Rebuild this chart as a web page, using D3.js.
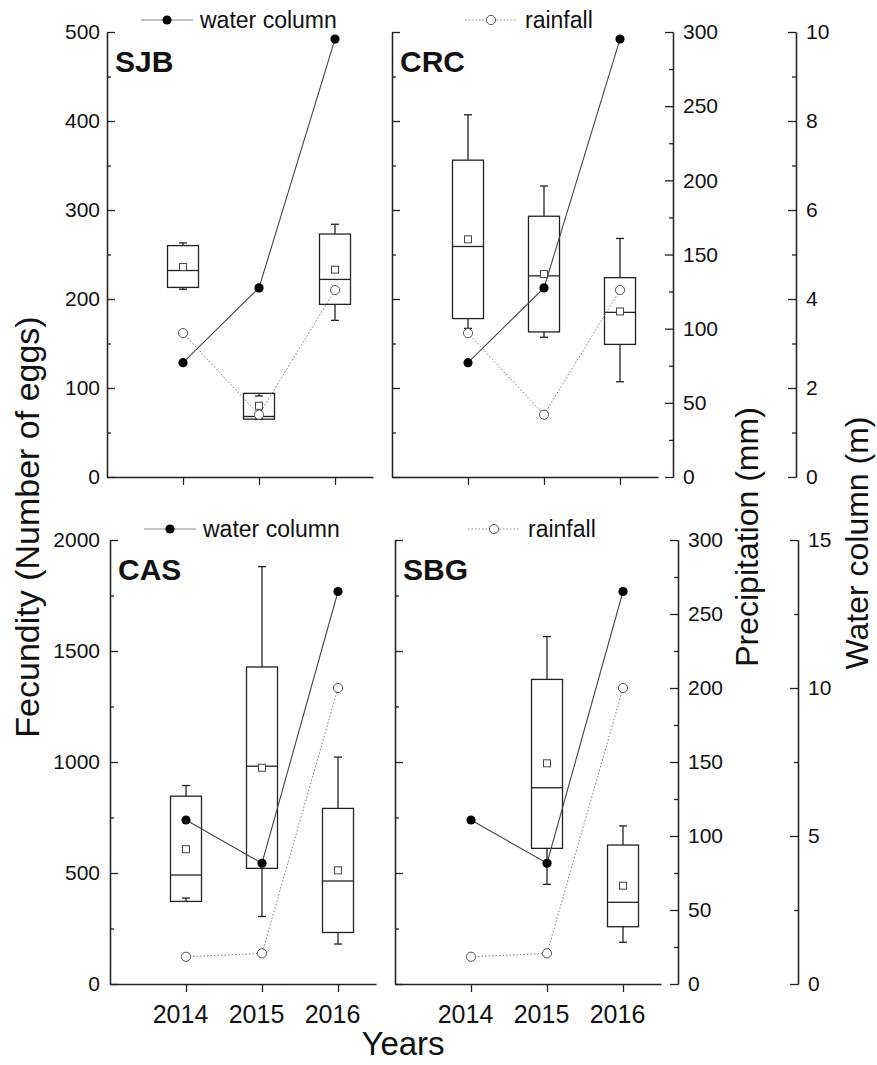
<!DOCTYPE html>
<html>
<head>
<meta charset="utf-8">
<script src="https://cdn.jsdelivr.net/npm/d3@7"></script>
<style>
  body { margin: 0; background: #fff; }
  text { font-family: "Liberation Sans", Arial, sans-serif; fill: #111; }
  .axis path, .axis line { stroke: #222; stroke-width: 1.3; }
</style>
</head>
<body>
<svg id="chart" width="877" height="1065"></svg>
<script>
const years = [2014, 2015, 2016];

// box stats per year: [lower whisker, q1, median, q3, upper whisker, mean]
const sjbBox = [[211, 213, 232, 260, 263, 236], [65, 65, 68, 94, 91, 80], [176, 194, 222, 273, 284, 233]];
const crcBox = [[167, 178, 259, 356, 407, 267], [157, 163, 226, 293, 327, 228], [107, 149, 185, 224, 268, 186]];
const casBox = [[387, 372, 491, 846, 894, 607], [304, 521, 981, 1428, 1880, 974], [180, 232, 464, 791, 1022, 512]];
const sbgBox = [null, [449, 611, 884, 1372, 1565, 994], [188, 258, 368, 626, 712, 443]];

// water column (m) and rainfall (mm), shared by both panels of a row
const waterTop = [2.57, 4.25, 9.84];
const rainTop = [97, 42, 126];
const waterBottom = [5.54, 4.08, 13.26];
const rainBottom = [18.4, 20.7, 200];

const fecTicksTop = [0, 100, 200, 300, 400, 500];
const fecTicksBottom = [0, 500, 1000, 1500, 2000];
const rainTicks = [0, 50, 100, 150, 200, 250, 300];
const waterTicksTop = [0, 2, 4, 6, 8, 10];
const waterTicksBottom = [0, 5, 10, 15];

const rows = [
  { top: 32, bottom: 477, fecTicks: fecTicksTop, fecMinor: 50, fecPad: 7,
    rainX: 673, waterX: 796, waterTicks: waterTicksTop, waterMinor: 1,
    water: waterTop, rain: rainTop, legendY: 20, xLabels: false,
    panels: [{ name: "SJB", box: sjbBox, left: 107 }, { name: "CRC", box: crcBox, left: 392 }] },
  { top: 540, bottom: 984, fecTicks: fecTicksBottom, fecMinor: 250, fecPad: 10,
    rainX: 678, waterX: 798, waterTicks: waterTicksBottom, waterMinor: 2.5,
    water: waterBottom, rain: rainBottom, legendY: 529, xLabels: true,
    panels: [{ name: "CAS", box: casBox, left: 110 }, { name: "SBG", box: sbgBox, left: 395 }] }
];

const panelW = 266;
const boxW = 31;
const capW = 8;

const svg = d3.select("#chart");

function minorOf(majors, step) {
  const max = d3.max(majors);
  return d3.range(0, max + step / 2, step).filter(v => !majors.includes(v));
}

rows.forEach(function (row) {
  const fecMax = d3.max(row.fecTicks);
  const waterMax = d3.max(row.waterTicks);

  const yRain = d3.scaleLinear().domain([0, 300]).range([row.bottom, row.top]);
  const yWater = d3.scaleLinear().domain([0, waterMax]).range([row.bottom, row.top]);

  row.panels.forEach(function (p, pi) {
    const x = d3.scaleLinear().domain([2013, 2016.5]).range([p.left, p.left + panelW]);
    const y = d3.scaleLinear().domain([0, fecMax]).range([row.bottom, row.top]);

    // left axis (labels only on the left panel)
    const gy = svg.append("g").attr("class", "axis")
      .attr("transform", "translate(" + p.left + ",0)");
    gy.call(d3.axisLeft(y).tickValues(row.fecTicks).tickSize(-8).tickSizeOuter(0)
      .tickPadding(row.fecPad).tickFormat(pi === 0 ? d3.format("d") : ""));
    gy.append("g").call(d3.axisLeft(y).tickValues(minorOf(row.fecTicks, row.fecMinor))
      .tickSize(-4).tickSizeOuter(0).tickFormat(""));
    gy.selectAll("text").style("font-size", "21px").attr("fill", "#111");

    // bottom axis
    const gx = svg.append("g").attr("class", "axis")
      .attr("transform", "translate(0," + row.bottom + ")");
    gx.call(d3.axisBottom(x).tickValues(years).tickSize(8).tickSizeOuter(0)
      .tickPadding(13).tickFormat(row.xLabels ? d3.format("d") : ""));
    gx.selectAll("text").style("font-size", "25px").attr("fill", "#111").attr("dx", -6);

    // boxes
    const boxes = svg.append("g");
    p.box.forEach(function (b, i) {
      if (!b) return;
      const cx = x(years[i]);
      const [lo, q1, med, q3, hi, mean] = b;
      const g = boxes.append("g").attr("stroke", "#222").attr("stroke-width", 1.3).attr("fill", "none");
      g.append("line").attr("x1", cx).attr("x2", cx).attr("y1", y(q3)).attr("y2", y(hi));
      g.append("line").attr("x1", cx - capW / 2).attr("x2", cx + capW / 2).attr("y1", y(hi)).attr("y2", y(hi));
      g.append("line").attr("x1", cx).attr("x2", cx).attr("y1", y(q1)).attr("y2", y(lo));
      g.append("line").attr("x1", cx - capW / 2).attr("x2", cx + capW / 2).attr("y1", y(lo)).attr("y2", y(lo));
      g.append("rect").attr("x", cx - boxW / 2).attr("width", boxW)
        .attr("y", y(q3)).attr("height", y(q1) - y(q3));
      g.append("line").attr("x1", cx - boxW / 2).attr("x2", cx + boxW / 2).attr("y1", y(med)).attr("y2", y(med));
      boxes.append("rect").attr("x", cx - 3.5).attr("y", y(mean) - 3.5).attr("width", 7).attr("height", 7)
        .attr("fill", "#fff").attr("stroke", "#444").attr("stroke-width", 1);
    });

    // rainfall line (dotted)
    const rainLine = d3.line().x((d, i) => x(years[i])).y(d => yRain(d));
    svg.append("path").datum(row.rain).attr("d", rainLine)
      .attr("fill", "none").attr("stroke", "#777").attr("stroke-width", 1).attr("stroke-dasharray", "1.5,2");

    // water column line
    const waterLine = d3.line().x((d, i) => x(years[i])).y(d => yWater(d));
    svg.append("path").datum(row.water).attr("d", waterLine)
      .attr("fill", "none").attr("stroke", "#444").attr("stroke-width", 1.1);

    svg.append("g").selectAll("circle").data(row.rain).enter().append("circle")
      .attr("cx", (d, i) => x(years[i])).attr("cy", d => yRain(d)).attr("r", 4.6)
      .attr("fill", "#fff").attr("stroke", "#555").attr("stroke-width", 1);
    svg.append("g").selectAll("circle").data(row.water).enter().append("circle")
      .attr("cx", (d, i) => x(years[i])).attr("cy", d => yWater(d)).attr("r", 4.6)
      .attr("fill", "#000");

    // panel name
    svg.append("text").attr("x", p.left + 8).attr("y", row.top + 40)
      .style("font-size", "30px").style("font-weight", "bold").text(p.name);

    // legend entry
    const ly = row.legendY;
    if (pi === 0) {
      svg.append("line").attr("x1", p.left + 34).attr("x2", p.left + 86).attr("y1", ly).attr("y2", ly)
        .attr("stroke", "#888").attr("stroke-width", 1.2);
      svg.append("circle").attr("cx", p.left + 60).attr("cy", ly).attr("r", 4.6).attr("fill", "#000");
      svg.append("text").attr("x", p.left + 93).attr("y", ly + 8).style("font-size", "23px").text("water column");
    } else {
      svg.append("line").attr("x1", p.left + 73).attr("x2", p.left + 125).attr("y1", ly).attr("y2", ly)
        .attr("stroke", "#888").attr("stroke-width", 1).attr("stroke-dasharray", "1.5,2");
      svg.append("circle").attr("cx", p.left + 99).attr("cy", ly).attr("r", 4.6)
        .attr("fill", "#fff").attr("stroke", "#555");
      svg.append("text").attr("x", p.left + 133).attr("y", ly + 8).style("font-size", "23px").text("rainfall");
    }
  });

  // precipitation axis
  const gr = svg.append("g").attr("class", "axis").attr("transform", "translate(" + row.rainX + ",0)");
  gr.call(d3.axisRight(yRain).tickValues(rainTicks).tickSize(-8).tickSizeOuter(0).tickPadding(10));
  gr.append("g").call(d3.axisRight(yRain).tickValues(minorOf(rainTicks, 25)).tickSize(-4).tickSizeOuter(0).tickFormat(""));
  gr.selectAll("text").style("font-size", "21px").attr("fill", "#111");

  // water column axis
  const gw = svg.append("g").attr("class", "axis").attr("transform", "translate(" + row.waterX + ",0)");
  gw.call(d3.axisRight(yWater).tickValues(row.waterTicks).tickSize(-8).tickSizeOuter(0).tickPadding(10));
  gw.append("g").call(d3.axisRight(yWater).tickValues(minorOf(row.waterTicks, row.waterMinor)).tickSize(-4).tickSizeOuter(0).tickFormat(""));
  gw.selectAll("text").style("font-size", "21px").attr("fill", "#111");
});

// axis titles
svg.append("text").attr("transform", "translate(39,527) rotate(-90)")
  .attr("text-anchor", "middle").style("font-size", "34px").text("Fecundity (Number of eggs)");
svg.append("text").attr("transform", "translate(758,537) rotate(-90)")
  .attr("text-anchor", "middle").style("font-size", "32px").text("Precipitation (mm)");
svg.append("text").attr("transform", "translate(868,543) rotate(-90)")
  .attr("text-anchor", "middle").style("font-size", "32px").text("Water column (m)");
svg.append("text").attr("x", 403).attr("y", 1055)
  .attr("text-anchor", "middle").style("font-size", "33px").text("Years");
</script>
</body>
</html>
